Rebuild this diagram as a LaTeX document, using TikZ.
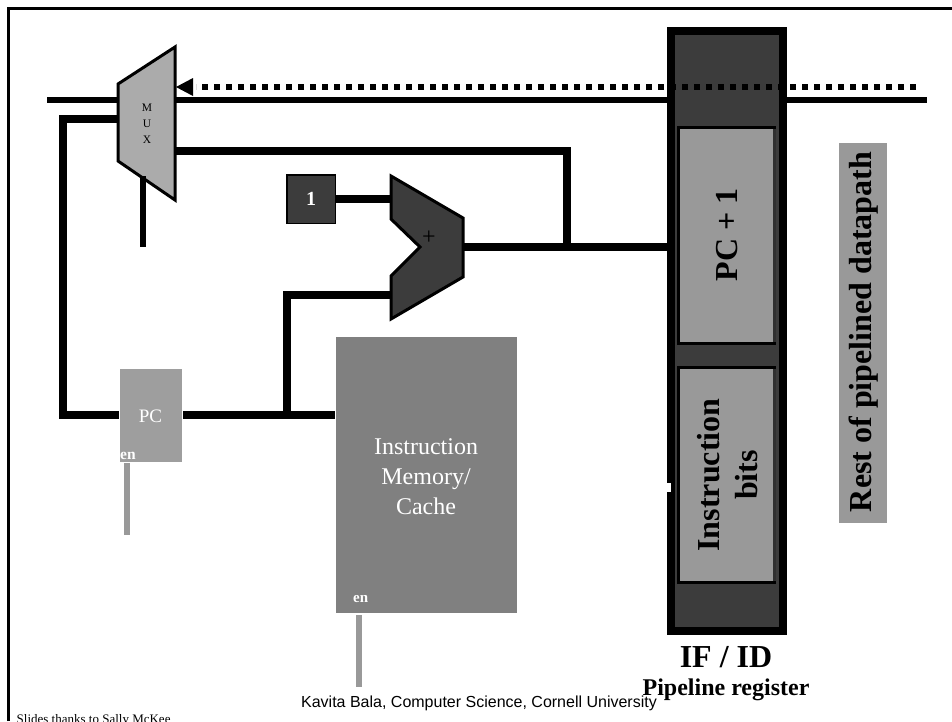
\documentclass[tikz,border=0pt]{standalone}
\usepackage{fontspec}
\setmainfont{Liberation Serif}
\newfontfamily\arialf{Liberation Sans}
\definecolor{dk}{gray}{0.235}
\definecolor{mg}{gray}{0.6}
\definecolor{pcg}{gray}{0.62}
\definecolor{mm}{gray}{0.5}
\definecolor{lg}{gray}{0.67}
\tikzset{
 wire/.style={line width=8pt,draw=black,line join=miter},
 thin wire/.style={line width=5.5pt,draw=black},
 en wire/.style={line width=6pt,draw=mg},
 lbl/.style={inner sep=0pt,align=center},
 pipebox/.style={draw=black,line width=3pt,fill=mg,inner sep=0pt,anchor=north west,minimum width=96pt,minimum height=216pt},
 big/.style={font=\bfseries\fontsize{32}{38}\selectfont},
}
\begin{document}
\begin{tikzpicture}[x=1pt,y=-1pt]
\useasboundingbox (0,0) rectangle (952,721);
% frame
\draw[line width=3pt] (8.5,721) -- (8.5,8.5) -- (952,8.5);
% bus line behind the register
\coordinate (lineL) at (47,100);
\coordinate (lineR) at (927,100);
\draw[thin wire] (lineL) -- (lineR);
% pipeline register
\node[draw=black,line width=8pt,fill=dk,minimum width=112pt,minimum height=600pt,inner sep=0pt,anchor=north west] (reg) at (667,27) {};
% mux
\draw[fill=lg,draw=black,line width=3pt] (118,84) -- (175,47) -- (175,200) -- (118,161) -- cycle;
\node[lbl,font=\fontsize{11.5}{16}\selectfont] (mux) at (147,124) {M\\U\\X};
\coordinate (muxE) at (175,151);
\coordinate (muxW) at (118,119);
\coordinate (muxS) at (143,176);
\coordinate (muxSel) at (143,247);
% dotted
\coordinate (dotR) at (916,87);
\coordinate (dotL) at (196,87);
\draw[line width=6pt,dash pattern=on 6pt off 6pt] (dotR) -- (dotL);
\draw[draw=none,fill=black] (176,87) -- (193,78) -- (193,96) -- cycle;
% select
\draw[line width=6pt] (muxS) -- (muxSel);
% one
\node[draw=black,line width=1.5pt,fill=dk,text=white,font=\bfseries\fontsize{20}{24}\selectfont,minimum size=48.5pt,inner sep=0pt] (one) at (311,199) {1};
% adder
\draw[fill=dk,draw=black,line width=3pt] (391,176) -- (463,218) -- (463,277) -- (391,319) -- (391,276) -- (420,247) -- (391,219) -- cycle;
\node[lbl,font=\fontsize{24}{28}\selectfont] (plus) at (429,238) {+};
\coordinate (addA) at (391,199);
\coordinate (addB) at (391,295);
\coordinate (addO) at (463,247);
\draw[wire] (one.east) -- (addA);
% pc
\node[fill=pcg,minimum width=62pt,minimum height=93pt,inner sep=0pt,anchor=north west] (pc) at (120,369) {};
\node[lbl,text=white,font=\fontsize{19}{22}\selectfont] at (150.5,416) {PC};
\node[lbl,text=white,font=\bfseries\fontsize{15.5}{18}\selectfont,anchor=west] at (120,456) {en};
\coordinate (pcE) at (183,415);
\coordinate (pcW) at (119,415);
\coordinate (pcEnA) at (127,463);
\coordinate (pcEnB) at (127,535);
\draw[en wire] (pcEnA) -- (pcEnB);
% memory
\node[fill=mm,minimum width=181pt,minimum height=276pt,inner sep=0pt,anchor=north west] (mem) at (336,337) {};
\node[lbl,text=white,font=\fontsize{24}{30}\selectfont] at (426,477) {Instruction\\Memory/\\Cache};
\node[lbl,text=white,font=\bfseries\fontsize{15}{18}\selectfont,anchor=west] at (353,599) {en};
\coordinate (memW) at (335,415);
\coordinate (memEnA) at (359,615);
\coordinate (memEnB) at (359,687);
\draw[en wire] (memEnA) -- (memEnB);
% wires
\draw[wire] (muxW) -- (63,119) -- (63,415) -- (pcW);
\draw[wire] (pcE) -- (memW);
\draw[wire] (addB) -- (287,295) -- (287,415);
\coordinate (regW) at (667,247);
\draw[wire] (addO) -- (regW);
\draw[wire] (567,247) -- (567,151) -- (muxE);
% PC+1
\node[pipebox] (pcp) at (677,126) {};
\draw[line width=3pt,draw=dk!80!black] (774.5,129) -- (774.5,342);
\node[lbl,rotate=90,big] at (727,235) {PC + 1};
\node[pipebox,minimum height=215pt] (ins) at (677,366) {};
\draw[line width=3pt,draw=dk!80!black] (774.5,369) -- (774.5,581);
\node[lbl,rotate=90,big] at (728,475) {Instruction\\bits};
\draw[draw=none,fill=white] (667,483) rectangle (671,492);
% rest
\node[fill=mg,minimum width=48pt,minimum height=380pt,inner sep=0pt,anchor=north west] (rest) at (839,143) {};
\node[lbl,rotate=90,big] at (864,332) {Rest of pipelined datapath};
% captions
\node[lbl,big] at (726,657) {IF / ID};
\node[lbl,font=\arialf\fontsize{16}{19}\selectfont] at (479,703) {Kavita Bala, Computer Science, Cornell University};
\node[lbl,font=\bfseries\fontsize{24}{28}\selectfont] at (726,690) {Pipeline register};
\node[lbl,anchor=base west,font=\fontsize{13}{15}\selectfont] at (16.5,723) {Slides thanks to Sally McKee};
\end{tikzpicture}
\end{document}
